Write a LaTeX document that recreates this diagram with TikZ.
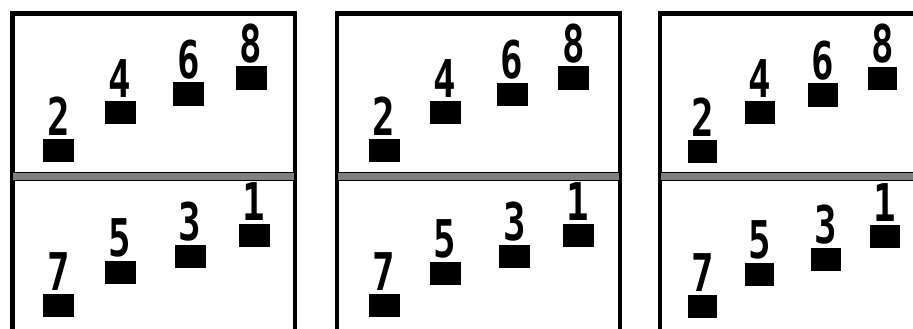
\documentclass[tikz,border=0pt]{standalone}
\usepackage{fontspec}
\newfontfamily\digfont{DejaVu Sans Mono}[BoldFont={* Bold}]
\begin{document}
\begin{tikzpicture}[x=1pt,y=-1pt,
  sq/.style={fill=black,draw=none,minimum width=31pt,minimum height=23pt,inner sep=0pt},
  sqn/.style={sq,minimum width=29.5pt},
  dig/.style={font=\digfont\bfseries\fontsize{52}{52}\selectfont,inner sep=0pt,anchor=south,xscale=0.72},
  frame/.style={draw=black,line width=4.2pt},
  divider/.style={fill=black!50,draw=black,line width=1.8pt}]
\useasboundingbox (0,0) rectangle (913,329);
% frames
\draw[frame] (12.5,340) -- (12.5,13.5) -- (295,13.5) -- (295,340);
\draw[frame] (337,340) -- (337,13.5) -- (620,13.5) -- (620,340);
\draw[frame] (660,340) -- (660,13.5) -- (930,13.5);
% dividers
\draw[divider] (12.5,172.5) rectangle (295,180.5);
\draw[divider] (337,172.5) rectangle (620,180.5);
\draw[divider] (660,172.5) rectangle (930,180.5);
% panel squares and digits
\foreach \p/\sty/\list in {
  a/sq/{2/58.5/150, 4/120/112, 6/188.5/94, 8/251/78, 7/58.5/305, 5/120/272.5, 3/190/256.5, 1/254/235},
  b/sq/{2/384/150.5, 4/445/112.5, 6/512/94.5, 8/573.5/78, 7/384/305, 5/445/273, 3/514.5/256, 1/578/235},
  c/sqn/{2/702.5/151, 4/760/112.5, 6/823/95, 8/882.5/78.5, 7/702.5/306, 5/759.5/274.5, 3/826/259, 1/885/236.5}}{
  \foreach \d/\x/\y in \list {
    \node[\sty] (s\p\d) at (\x,\y) {};
    \node[dig] (d\p\d) at ([yshift=3pt]s\p\d.north) {\d};
  }
}
\end{tikzpicture}
\end{document}
